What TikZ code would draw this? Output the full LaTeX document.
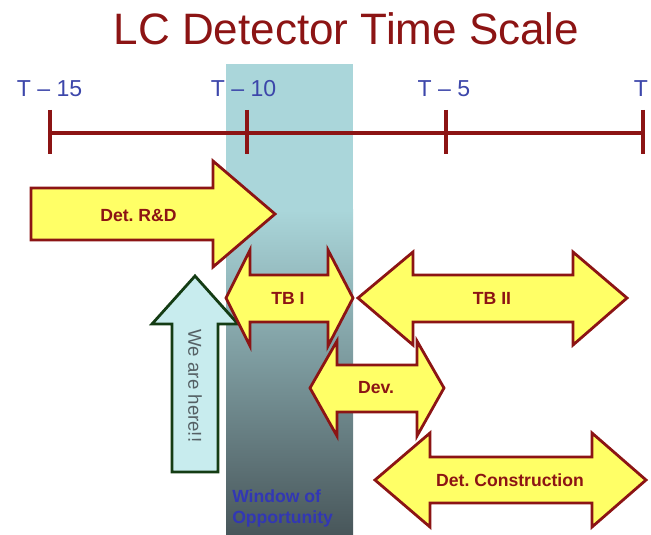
\documentclass[tikz,border=0pt]{standalone}
\usepackage{fontspec}
\setmainfont{Liberation Sans}
\usepackage{tikz}
\frenchspacing

\definecolor{scalered}{RGB}{140,20,20}
\definecolor{tickblue}{RGB}{60,70,170}
\definecolor{winblue}{RGB}{50,55,180}
\definecolor{phasefill}{RGB}{255,255,102}
\definecolor{hereline}{RGB}{20,60,20}
\definecolor{herefill}{RGB}{200,236,238}
\definecolor{heretext}{RGB}{85,96,100}
\definecolor{wintop}{RGB}{170,214,218}
\definecolor{winmid}{RGB}{122,150,155}
\definecolor{winbot}{RGB}{72,86,90}

\begin{document}
\begin{tikzpicture}[x=0.75pt,y=-0.75pt,
		phase/.style={fill=phasefill,draw=scalered,line width=2.1pt},
		lbl/.style={text=scalered,font=\fontsize{13.2}{15}\selectfont\bfseries,inner sep=0pt}]
		\useasboundingbox (0,0) rectangle (651,535);
		
		% window of opportunity
		\fill[wintop] (226,64) rectangle (353,210.5);
		\shade[top color=wintop,middle color=winmid,bottom color=winbot] (226,210) rectangle (353,535);
		
		\node[text=scalered,font=\fontsize{33}{38}\selectfont,anchor=base] (title) at (346.5,45) {LC Detector Time Scale};
		
		\draw[scalered,line width=2.5pt] (50,133) -- (643,133);
		\foreach \x/\lx/\t in {50/49.5/T – 15,247/243.5/T – 10,446/444/T – 5,643/641/T}
		{
		\draw[scalered,line width=2.5pt] (\x,110) -- (\x,154);
		\node[text=tickblue,font=\fontsize{17.3}{20}\selectfont,anchor=base] (lab\x) at (\lx,97) {\t};
		}
		
		% we are here
		\draw[fill=herefill,draw=hereline,line width=2.1pt]
		(172,472) -- (172,324) -- (152,324) -- (195,276) -- (238,324) -- (218,324) -- (218,472) -- cycle;
		\node[rotate=-90,text=heretext,font=\fontsize{14}{16}\selectfont] (here) at (195,386) {We are here!!};
		
		% phases
		\draw[phase] (31,188) -- (213,188) -- (213,161) -- (275,214) -- (213,267) -- (213,240) -- (31,240) -- cycle;
		\node[lbl] (rd) at (138.5,215) {Det. R\&D};
		
		\draw[phase] (226,298) -- (250,250) -- (250,275) -- (328,275) -- (328,250) -- (353,298)
		-- (328,346) -- (328,322) -- (250,322) -- (250,346) -- cycle;
		\node[lbl] (tbi) at (288,298) {TB I};
		
		\draw[phase] (358,298) -- (413,252) -- (413,275) -- (573,275) -- (573,252) -- (627,298)
		-- (573,345) -- (573,322) -- (413,322) -- (413,345) -- cycle;
		\node[lbl] (tbii) at (492,298) {TB II};
		
		\draw[phase] (310,388) -- (337,341) -- (337,365) -- (417,365) -- (417,341) -- (444,388)
		-- (417,436) -- (417,412) -- (337,412) -- (337,436) -- cycle;
		\node[lbl] (dev) at (376,388) {Dev.};
		
		\draw[phase] (375,480) -- (430,433) -- (430,457) -- (592,457) -- (592,433) -- (646,480)
		-- (592,527) -- (592,503) -- (430,503) -- (430,527) -- cycle;
		\node[lbl] (constr) at (510,480) {Det. Construction};
		
		\node[anchor=north west,align=left,inner sep=0pt,text=winblue,
		font=\fontsize{13.2}{15.75}\selectfont\bfseries] (win) at (232,489) {Window of\\Opportunity};
	\end{tikzpicture}
\end{document}
